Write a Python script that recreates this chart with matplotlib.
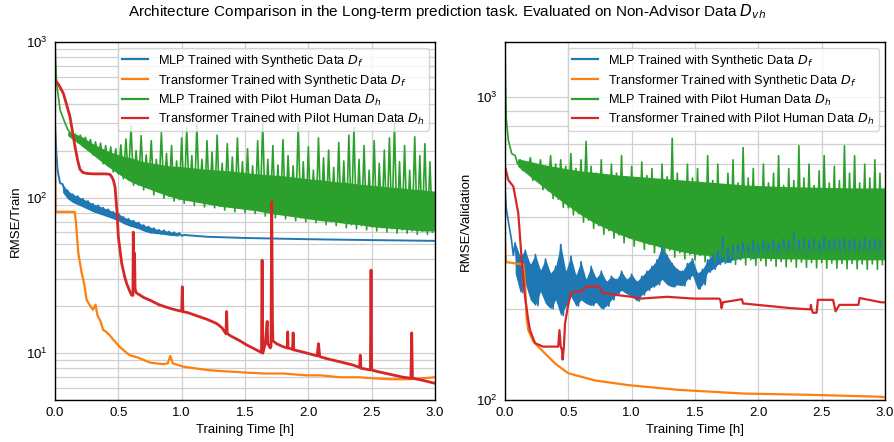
import numpy as np
import matplotlib
matplotlib.use("Agg")
import matplotlib.pyplot as plt

plt.rcParams['font.family'] = ['Liberation Sans', 'DejaVu Sans']

labels = [r"MLP Trained with Synthetic Data $D_f$",
          r"Transformer Trained with Synthetic Data $D_f$",
          r"MLP Trained with Pilot Human Data $D_h$",
          r"Transformer Trained with Pilot Human Data $D_h$"]
colors = ["#1f77b4", "#ff7f0e", "#2ca02c", "#d62728"]

# ---------------- train (left) ----------------
# noisy series: head, (hi, lo) pairs every 0.04h, optional tail
train_mlp_syn_head_t = [0, 0.01, 0.02, 0.04]
train_mlp_syn_head_v = [300, 200, 150, 124]
train_mlp_syn_pairs = [(122, 108), (111, 98), (105, 93), (102, 90), (98, 87), (95, 84),
                       (91, 81), (89, 79), (86, 77), (84, 75), (81, 73), (79, 71),
                       (75, 68), (73, 66), (71, 64.5), (69, 63), (66.5, 61), (65, 59.5),
                       (63.5, 59), (62, 58.5), (61.5, 58), (60.5, 57.3), (59.8, 57), (59.2, 56.8)]
train_mlp_syn_tail_t = [1.02, 1.2, 1.5, 2.0, 2.5, 3.0]
train_mlp_syn_tail_v = [57.5, 56, 55, 54, 53.3, 52.7]

train_tf_syn_t = [0, 0.002, 0.005, 0.155, 0.165, 0.184, 0.21, 0.23, 0.25, 0.28, 0.30, 0.32,
                  0.335, 0.36, 0.38, 0.40, 0.43, 0.46, 0.51, 0.55, 0.59, 0.65, 0.75, 0.85,
                  0.89, 0.91, 0.93, 0.97, 1.01, 1.1, 1.2, 1.28, 1.4, 1.51, 1.65, 1.8, 1.99,
                  2.1, 2.25, 2.4, 2.5, 2.64, 2.8, 2.9, 3.0]
train_tf_syn_v = [264, 150, 81, 81, 70, 44, 33, 28, 22, 20, 19, 20.5, 17.5, 16, 14.1, 13.8,
                  13.1, 12.2, 11, 10.3, 9.7, 9.4, 8.7, 8.5, 8.6, 9.6, 8.6, 8.4, 8.2, 8.0, 7.8,
                  7.7, 7.6, 7.5, 7.4, 7.4, 7.2, 7.2, 7.0, 7.0, 6.9, 6.8, 6.8, 6.9, 7.0]

train_mlp_hum_head_t = [0, 0.005, 0.013, 0.04, 0.08, 0.10]
train_mlp_hum_head_v = [1000, 750, 540, 366, 300, 275]
train_mlp_hum_pairs = [(262, 240), (256, 226), (252, 214), (244, 203), (236, 188), (228, 180),
                       (224, 165), (216, 160), (212, 146), (206, 142), (218, 132), (238, 130),
                       (290, 120), (200, 120), (250, 112), (188, 115), (232, 104), (176, 108),
                       (262, 99), (192, 102), (216, 95), (172, 97), (242, 92), (282, 96),
                       (186, 89), (292, 94), (176, 87), (232, 91), (196, 86), (252, 88),
                       (166, 83), (222, 88), (182, 81), (242, 86), (170, 80), (206, 84),
                       (160, 79), (232, 82), (302, 76), (176, 81), (216, 74), (162, 78),
                       (236, 73), (186, 79), (160, 71), (296, 74), (170, 70), (212, 73),
                       (150, 69), (242, 72), (180, 67), (202, 70), (156, 66), (226, 69),
                       (172, 64), (252, 67), (282, 63), (176, 66), (216, 62), (150, 65),
                       (232, 61), (166, 64), (202, 60), (242, 63), (300, 59), (170, 62),
                       (216, 59), (150, 61), (246, 58), (186, 61), (222, 58), (170, 60)]
# dense core of the green band, every 0.1h from 0.1 to 3.0
train_mlp_hum_core_lo = [250, 218, 188, 162, 142, 126, 117, 109, 102, 97, 94, 91, 88, 86, 84,
                         82, 79, 77, 75, 73, 71, 70, 68, 67, 65, 64, 63, 62, 61, 61]
train_mlp_hum_core_hi = [265, 250, 222, 202, 188, 180, 170, 165, 160, 158, 155, 152, 150, 148,
                         145, 142, 140, 138, 135, 132, 130, 127, 125, 122, 120, 118, 116, 114,
                         112, 110]

train_tf_hum_t = [0, 0.03, 0.066, 0.09, 0.118, 0.14, 0.158, 0.18, 0.197, 0.22, 0.25, 0.30,
                  0.40, 0.434, 0.45, 0.46, 0.474, 0.49, 0.50, 0.526, 0.55, 0.566, 0.59, 0.605,
                  0.615, 0.618, 0.622, 0.628, 0.632, 0.64, 0.65, 0.70, 0.75, 0.82, 0.908, 0.95,
                  1.0, 1.005, 1.01, 1.05, 1.145, 1.2, 1.277, 1.32, 1.35, 1.355, 1.36, 1.38,
                  1.46, 1.513, 1.58, 1.63, 1.635, 1.64, 1.66, 1.675, 1.68, 1.70, 1.705, 1.711,
                  1.717, 1.72, 1.75, 1.80, 1.835, 1.837, 1.84, 1.875, 1.88, 1.885, 1.95, 1.99,
                  2.07, 2.08, 2.09, 2.15, 2.25, 2.35, 2.405, 2.41, 2.415, 2.49, 2.495, 2.50,
                  2.55, 2.65, 2.75, 2.81, 2.816, 2.822, 2.9, 3.0]
train_tf_hum_v = [570, 530, 467, 400, 331, 260, 212, 172, 152, 145, 143, 142,
                  142, 141, 135, 130, 117, 80, 56, 38, 31, 28, 25, 23.6,
                  23.5, 60, 30, 44, 26, 24.5, 24.2, 22.8, 21.9, 20.5, 19.4, 19.0,
                  18.6, 26.7, 18.5, 18.2, 17.1, 16.5, 15.5, 14.5, 13.3, 18.5, 13.4, 13.0,
                  12.0, 11.3, 10.6, 10.1, 39.6, 10.0, 11.5, 16, 11.5, 10.8, 11, 94,
                  16, 12, 11.5, 11.0, 10.8, 13.7, 10.8, 10.6, 13.5, 10.5, 10.2, 10,
                  9.6, 11.5, 9.5, 9.2, 8.8, 8.4, 8.1, 9.7, 8.0, 7.8, 34.2, 7.8,
                  7.6, 7.3, 7.0, 6.9, 13.5, 6.9, 6.7, 6.4]

# ---------------- validation (right) ----------------
val_mlp_syn_head_t = [0, 0.01, 0.03, 0.05, 0.066]
val_mlp_syn_head_v = [500, 430, 380, 340, 300]
val_mlp_syn_pairs = [(330, 262), (298, 226), (312, 242), (280, 214), (302, 205), (268, 228),
                     (292, 208), (262, 200), (276, 214), (326, 190), (266, 204), (298, 220),
                     (258, 204), (286, 214), (250, 208), (276, 205), (252, 210), (266, 200),
                     (246, 204), (256, 214), (250, 224), (266, 230), (250, 224), (260, 220),
                     (246, 212), (256, 222), (266, 230), (276, 236), (290, 240), (322, 250),
                     (300, 240), (282, 236), (270, 240), (266, 238), (282, 250), (292, 258),
                     (262, 232), (270, 240), (290, 264), (302, 270), (312, 280), (346, 286),
                     (316, 284), (322, 290), (326, 292), (330, 294), (322, 296), (334, 292),
                     (326, 298), (338, 294), (328, 300), (336, 296), (330, 300), (340, 296),
                     (334, 302), (358, 298), (336, 300), (342, 296), (334, 302), (340, 298),
                     (332, 300), (344, 296), (336, 302), (340, 298), (334, 300), (342, 296),
                     (336, 302), (340, 298), (334, 300), (342, 296), (336, 302), (340, 298),
                     (334, 300)]

val_tf_syn_t = [0, 0.004, 0.01, 0.145, 0.158, 0.17, 0.184, 0.224, 0.29, 0.395, 0.5, 0.71,
                0.97, 1.37, 1.89, 2.42, 2.97, 3.0]
val_tf_syn_v = [340, 300, 285, 280, 243, 188, 170, 156, 146, 132, 122.5, 116,
                112, 108, 105, 104, 102.5, 102]

val_mlp_hum_head_t = [0, 0.003, 0.01, 0.026, 0.053]
val_mlp_hum_head_v = [1600, 1200, 850, 721, 650]
val_mlp_hum_pairs = [(640, 600), (620, 572), (610, 566), (630, 530), (600, 526), (620, 494),
                     (590, 490), (640, 462), (600, 460), (620, 432), (590, 430), (650, 408),
                     (580, 412), (620, 386), (713, 392), (590, 368), (560, 376), (620, 352),
                     (540, 362), (600, 342), (560, 350), (640, 330), (540, 342), (590, 322),
                     (530, 336), (610, 314), (550, 326), (580, 306), (520, 320), (600, 302),
                     (545, 312), (730, 296), (560, 306), (520, 292), (600, 302), (540, 290),
                     (580, 300), (510, 286), (640, 296), (530, 284), (600, 294), (500, 282),
                     (560, 292), (620, 280), (520, 290), (680, 279), (540, 290), (580, 278),
                     (500, 288), (600, 277), (520, 288), (560, 276), (640, 286), (510, 275),
                     (580, 286), (530, 274), (690, 285), (540, 274), (600, 284), (510, 273),
                     (570, 284), (640, 272), (520, 283), (590, 272), (530, 282), (690, 271),
                     (560, 282), (640, 271), (520, 281), (600, 270), (540, 281), (620, 270),
                     (560, 280)]
val_mlp_hum_core_lo = [590, 545, 505, 468, 436, 408, 385, 368, 352, 340, 330, 322, 315, 308,
                       303, 300, 298, 296, 295, 294, 293, 292, 292, 291, 291, 290, 290, 290,
                       290, 290]
val_mlp_hum_core_hi = [625, 612, 598, 588, 578, 570, 564, 558, 552, 548, 544, 540, 536, 532,
                       528, 524, 520, 516, 512, 510, 508, 506, 505, 504, 503, 502, 501, 500,
                       500, 500]

val_tf_hum_t = [0, 0.026, 0.066, 0.105, 0.13, 0.158, 0.18, 0.197, 0.237, 0.30, 0.42, 0.43,
                0.44, 0.45, 0.455, 0.465, 0.474, 0.5, 0.526, 0.6, 0.64, 0.74, 0.77, 0.88,
                1.0, 1.07, 1.28, 1.49, 1.69, 1.70, 1.71, 1.72, 1.87, 1.88, 1.89, 2.25, 2.41,
                2.415, 2.42, 2.43, 2.46, 2.47, 2.59, 2.60, 2.61, 2.64, 2.79, 2.80, 2.97, 3.0]
val_tf_hum_v = [590, 532, 506, 413, 297, 219, 188, 170, 154, 150, 150, 170,
                150, 146, 136, 150, 179, 208, 227, 228, 236, 237, 226, 222,
                219, 216, 219, 216, 216, 214, 201, 210, 215, 208, 208, 201, 199,
                206, 200, 194, 194, 214, 214, 205, 196, 206, 206, 217, 210, 210]

core_t = np.round(np.arange(0.1, 3.001, 0.1), 2)


def zigzag(t0, pairs, step=0.04):
    v = np.array(pairs, dtype=float).ravel()
    t = t0 + step / 2 * np.arange(len(v))
    return t, v


def series(head_t, head_v, t0, pairs, tail_t=(), tail_v=()):
    zt, zv = zigzag(t0, pairs)
    t = np.concatenate([head_t, zt, tail_t])
    v = np.concatenate([head_v, zv, tail_v])
    return t, v


def pair_band(t0, pairs, step=0.04):
    p = np.array(pairs, dtype=float)
    t = t0 + step * np.arange(len(p))
    return t, p[:, 1], p[:, 0]


fig = plt.figure(figsize=(8.95, 4.42), dpi=100)
ax1 = fig.add_axes([55 / 895, 1 - 400 / 442, 380 / 895, 358 / 442])
ax2 = fig.add_axes([505 / 895, 1 - 400 / 442, 380 / 895, 358 / 442])

# left panel
t, v = series(train_mlp_syn_head_t, train_mlp_syn_head_v, 0.06, train_mlp_syn_pairs,
              train_mlp_syn_tail_t, train_mlp_syn_tail_v)
ax1.plot(t, v, color=colors[0], lw=1.4, label=labels[0])
bt, blo, bhi = pair_band(0.06, train_mlp_syn_pairs)
ax1.fill_between(bt, blo, bhi, color=colors[0], lw=0)
ax1.plot(train_tf_syn_t, train_tf_syn_v, color=colors[1], lw=1.6, label=labels[1])
ax1.fill_between(core_t, train_mlp_hum_core_lo, train_mlp_hum_core_hi, color=colors[2], lw=0)
t, v = series(train_mlp_hum_head_t, train_mlp_hum_head_v, 0.12, train_mlp_hum_pairs)
ax1.plot(t, v, color=colors[2], lw=1.2, label=labels[2])
ax1.plot(train_tf_hum_t, train_tf_hum_v, color=colors[3], lw=2.0, label=labels[3])

# right panel
t, v = series(val_mlp_syn_head_t, val_mlp_syn_head_v, 0.08, val_mlp_syn_pairs)
ax2.plot(t, v, color=colors[0], lw=1.2, label=labels[0])
bt, blo, bhi = pair_band(0.08, val_mlp_syn_pairs)
ax2.fill_between(bt, blo, bhi, color=colors[0], lw=0)
ax2.plot(val_tf_syn_t, val_tf_syn_v, color=colors[1], lw=1.6, label=labels[1])
ax2.fill_between(core_t, val_mlp_hum_core_lo, val_mlp_hum_core_hi, color=colors[2], lw=0)
t, v = series(val_mlp_hum_head_t, val_mlp_hum_head_v, 0.08, val_mlp_hum_pairs)
ax2.plot(t, v, color=colors[2], lw=1.2, label=labels[2])
ax2.plot(val_tf_hum_t, val_tf_hum_v, color=colors[3], lw=1.6, label=labels[3])

for ax, ylab, ylim in [(ax1, "RMSE/Train", (5, 1000)),
                       (ax2, "RMSE/Validation", (100, 1517))]:
    ax.set_yscale("log")
    ax.set_xlim(0, 3.0)
    ax.set_ylim(*ylim)
    ax.set_xticks(np.arange(0, 3.01, 0.5))
    ax.set_xlabel("Training Time [h]", fontsize=9.5)
    ax.set_ylabel(ylab, fontsize=9.5, labelpad=3)
    ax.grid(True, which="both", color="#d0d0d0", lw=0.9)
    ax.set_axisbelow(True)
    ax.tick_params(which="both", length=0, labelsize=9.5, pad=5)
    for s in ax.spines.values():
        s.set_color("black")
        s.set_linewidth(1.0)
    leg = ax.legend(loc="upper right", fontsize=9.2, framealpha=0.8,
                    edgecolor="#cccccc", borderpad=0.35, labelspacing=0.3)
    for h in leg.get_lines():
        h.set_linewidth(1.6)

fig.suptitle(r"Architecture Comparison in the Long-term prediction task. Evaluated on Non-Advisor Data $D_{vh}$",
             fontsize=11, y=0.995)

fig.savefig("out.png", dpi=100)
